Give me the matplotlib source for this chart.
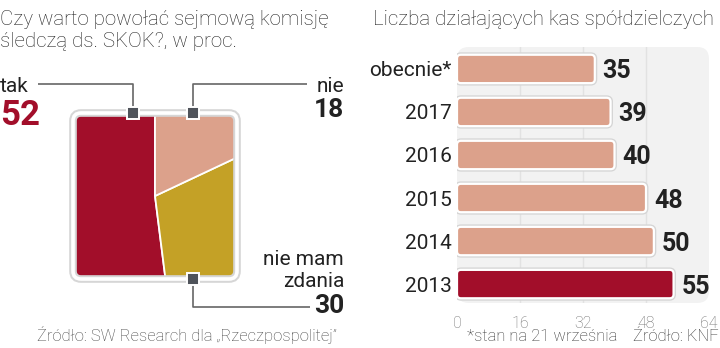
import matplotlib
matplotlib.use("Agg")
import matplotlib.pyplot as plt
from matplotlib.patches import FancyBboxPatch

plt.rcParams['font.family'] = ['Roboto', 'DejaVu Sans']

# Survey: should a Sejm inquiry committee on SKOK be set up (percent)
survey_labels = ["tak", "nie mam zdania", "nie"]
survey_values = [52, 30, 18]

# Number of operating credit unions
years = ["2013", "2014", "2015", "2016", "2017", "obecnie*"]
unions = [55, 50, 48, 40, 39, 35]
x_ticks = [0, 16, 32, 48, 64]

RED = "#A20E2A"
SALMON = "#DCA18B"
GOLD = "#C4A126"
DARK = "#222222"
MARK = "#4F535A"
LINE = "#666666"

W, H = 720, 348
fig = plt.figure(figsize=(W / 100, H / 100), dpi=100)


def fx(px):
    return px / W


def fy(py):
    return 1 - py / H


# ---------------- square pie ----------------
pl, pt, pr, pb = 72, 112, 238, 280
pax = fig.add_axes([fx(pl), fy(pb), fx(pr - pl), (pb - pt) / H])
half_w, half_h = (pr - pl) / 2, (pb - pt) / 2
wedges, _ = pax.pie(survey_values, colors=[RED, GOLD, SALMON], startangle=90,
                    counterclock=True, radius=400,
                    wedgeprops=dict(edgecolor="white", linewidth=1.3))
pax.set_aspect("auto")
pax.set_xlim(-half_w, half_w)
pax.set_ylim(-half_h, half_h)
pax.axis("off")


def rounded_box(**kw):
    return FancyBboxPatch((-half_w + 1, -half_h + 1), 2 * half_w - 2, 2 * half_h - 2,
                          boxstyle="round,pad=0,rounding_size=8",
                          transform=pax.transData, **kw)


clip = rounded_box(facecolor="none", edgecolor="none")
pax.add_patch(clip)
for w in wedges:
    w.set_clip_on(True)
    w.set_clip_path(clip)
pax.add_patch(rounded_box(facecolor="none", edgecolor="#d6d6d6", linewidth=5.5,
                          clip_on=False, zorder=4))
pax.add_patch(rounded_box(facecolor="none", edgecolor="white", linewidth=2.6,
                          clip_on=False, zorder=5))

# ---------------- bar chart ----------------
bl, bt, br, bb = 457, 47, 709, 303
bax = fig.add_axes([fx(bl), fy(bb), fx(br - bl), (bb - bt) / H])
ypos = list(range(len(years)))
bax.set_xlim(x_ticks[0], x_ticks[-1])
bax.set_ylim(-0.44, 5.51)
px_per_x = (br - bl) / (x_ticks[-1] - x_ticks[0])
px_per_y = (bb - bt) / 5.95
aspect = px_per_x / px_per_y

panel = FancyBboxPatch((0, -0.44), 64, 5.95, boxstyle="round,pad=0,rounding_size=3",
                       mutation_aspect=aspect, facecolor="#f2f2f2", edgecolor="none",
                       zorder=0, clip_on=False)
bax.add_patch(panel)
for t in x_ticks[1:-1]:
    bax.axvline(t, color="#e2e2e2", linewidth=1.0, zorder=0.5)

bars = bax.barh(ypos, unions, height=0.66, color="none")
for i, b in enumerate(bars):
    x0, y0, w, h = b.get_x(), b.get_y(), b.get_width(), b.get_height()
    b.set_visible(False)
    col = RED if years[i] == "2013" else SALMON
    bax.add_patch(FancyBboxPatch((x0, y0), w, h, boxstyle="round,pad=0,rounding_size=1.0",
                                 mutation_aspect=aspect, facecolor="none",
                                 edgecolor="#d5d5d5", linewidth=3.5, zorder=2))
    bax.add_patch(FancyBboxPatch((x0, y0), w, h, boxstyle="round,pad=0,rounding_size=1.0",
                                 mutation_aspect=aspect, facecolor=col,
                                 edgecolor="white", linewidth=1.6, zorder=3))
    bax.text(w + 2.0, ypos[i], str(unions[i]), ha="left", va="center_baseline",
             fontsize=18, fontweight="bold", color=DARK)

bax.set_yticks(ypos)
bax.set_yticklabels(years, fontsize=15, color=DARK)
bax.set_xticks(x_ticks)
bax.set_xticklabels([str(t) for t in x_ticks], fontsize=11.5, color="#707070",
                    fontweight="light")
bax.tick_params(axis="y", length=0, pad=4)
bax.tick_params(axis="x", length=0, pad=9)
for s in bax.spines.values():
    s.set_visible(False)

# ---------------- overlay: titles, labels, leader lines ----------------
ov = fig.add_axes([0, 0, 1, 1], zorder=10)
ov.set_xlim(0, W)
ov.set_ylim(H, 0)
ov.axis("off")

ov.text(0, 25, "Czy warto powołać sejmową komisję", fontsize=14.8, fontweight="light",
        color=DARK, va="baseline")
ov.text(0, 47, "śledczą ds. SKOK?, w proc.", fontsize=14.8, fontweight="light",
        color=DARK, va="baseline")
ov.text(714, 25, "Liczba działających kas spółdzielczych", fontsize=14.8,
        fontweight="light", color=DARK, va="baseline", ha="right")

# leader lines
ov.plot([38, 133, 133], [84, 84, 113], color=LINE, lw=1.2, solid_capstyle="butt")
ov.plot([307, 193, 193], [84, 84, 113], color=LINE, lw=1.2, solid_capstyle="butt")
ov.plot([193, 193, 310], [279, 307, 307], color=LINE, lw=1.2, solid_capstyle="butt")
ov.plot([133, 193, 193], [113, 113, 279], linestyle="none", marker="s", markersize=8.5,
        markerfacecolor=MARK, markeredgecolor="white", markeredgewidth=1.4)

ov.text(0, 92, survey_labels[0], fontsize=15, color=DARK, va="baseline")
ov.text(0, 125, str(survey_values[0]), fontsize=25, fontweight="bold", color=RED,
        va="baseline")
ov.text(344, 92, survey_labels[2], fontsize=15, color=DARK, va="baseline", ha="right")
ov.text(344, 117, str(survey_values[2]), fontsize=19, fontweight="bold", color=DARK,
        va="baseline", ha="right")
ov.text(344, 265, "nie mam", fontsize=15, color=DARK, va="baseline", ha="right")
ov.text(344, 287, "zdania", fontsize=15, color=DARK, va="baseline", ha="right")
ov.text(344, 313, str(survey_values[1]), fontsize=19, fontweight="bold", color=DARK,
        va="baseline", ha="right")

ov.text(37, 341, "Źródło: SW Research dla „Rzeczpospolitej”", fontsize=12,
        fontweight="light", color="#444444", va="baseline")
ov.text(467, 341, "*stan na 21 września", fontsize=12, fontweight="light",
        color="#333333", va="baseline")
ov.text(719, 341, "Źródło: KNF", fontsize=12, fontweight="light", color="#333333",
        va="baseline", ha="right")

fig.savefig("out.png", dpi=100, facecolor="white")
